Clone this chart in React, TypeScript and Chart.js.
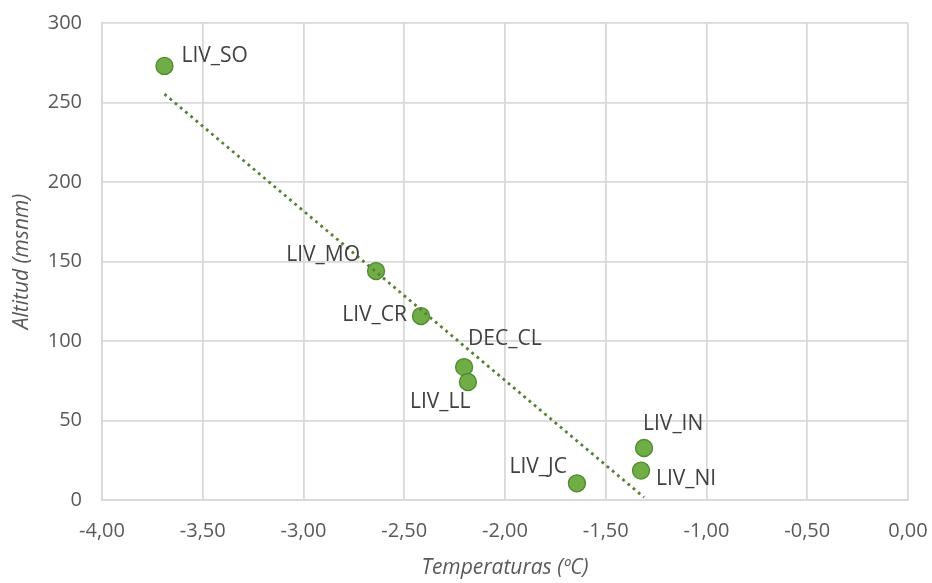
import React, { useEffect, useRef } from "react";
import { Chart, registerables } from "chart.js";

Chart.register(...registerables);

const stations = ["LIV_SO", "LIV_MO", "LIV_CR", "DEC_CL", "LIV_LL", "LIV_JC", "LIV_IN", "LIV_NI"];
const temperatures = [-3.69, -2.64, -2.417, -2.203, -2.184, -1.643, -1.31, -1.325];
const altitudes = [273, 144, 115.7, 83.6, 74.2, 10.5, 32.7, 18.5];

// label placement relative to point: [dx, dy, align]
const labelPlacement: [number, number, CanvasTextAlign][] = [
  [17, -10, "left"],
  [-16, -16, "right"],
  [-14, -1, "right"],
  [4, -28, "left"],
  [-58, 20, "left"],
  [-10, -16, "right"],
  [-1, -23.5, "left"],
  [15, 8, "left"],
];

function regression(xs: number[], ys: number[]) {
  const n = xs.length;
  const mx = xs.reduce((a, b) => a + b, 0) / n;
  const my = ys.reduce((a, b) => a + b, 0) / n;
  let sxy = 0, sxx = 0;
  for (let i = 0; i < n; i++) {
    sxy += (xs[i] - mx) * (ys[i] - my);
    sxx += (xs[i] - mx) * (xs[i] - mx);
  }
  const slope = sxy / sxx;
  return { slope, intercept: my - slope * mx };
}

const FONT = "'Open Sans', 'Liberation Sans', sans-serif";

export default function App() {
  const ref = useRef<HTMLCanvasElement>(null);
  useEffect(() => {
    const { slope, intercept } = regression(temperatures, altitudes);
    const xmin = Math.min(...temperatures);
    const xmax = Math.max(...temperatures);
    const trend = [
      { x: xmin, y: intercept + slope * xmin },
      { x: xmax, y: intercept + slope * xmax },
    ];
    const points = temperatures.map((t, i) => ({ x: t, y: altitudes[i] }));

    const labelPlugin = {
      id: "pointLabels",
      afterDatasetsDraw(chart: any) {
        const ctx = chart.ctx;
        const meta = chart.getDatasetMeta(1);
        ctx.save();
        ctx.font = `21px ${FONT}`;
        ctx.fillStyle = "#404040";
        ctx.textBaseline = "middle";
        meta.data.forEach((el: any, i: number) => {
          const [dx, dy, align] = labelPlacement[i];
          ctx.textAlign = align;
          ctx.fillText(stations[i], el.x + dx, el.y + dy);
        });
        ctx.restore();
      },
    };

    const chart = new Chart(ref.current!, {
      type: "scatter",
      data: {
        datasets: [
          {
            type: "line",
            data: trend,
            borderColor: "#548235",
            borderWidth: 2.8,
            borderDash: [2.8, 4],
            pointRadius: 0,
            fill: false,
            order: 0,
          } as any,
          {
            data: points,
            backgroundColor: "#70AD47",
            borderColor: "#4E8A2E",
            borderWidth: 1.3,
            pointRadius: 8.5,
            order: 1,
          },
        ],
      },
      options: {
        responsive: false,
        animation: false,
        layout: { padding: { top: 23, right: 24, left: 0, bottom: 0 } },
        plugins: { legend: { display: false }, tooltip: { enabled: false } },
        scales: {
          x: {
            type: "linear",
            min: -4,
            max: 0,
            ticks: {
              stepSize: 0.5,
              color: "#595959",
              font: { family: FONT, size: 20 },
              padding: 19,
              callback: (v: any) => Number(v).toFixed(2).replace(".", ","),
            },
            grid: { color: "#d9d9d9", lineWidth: 1.8, drawTicks: false },
            border: { color: "#d9d9d9", width: 1.8 },
            title: {
              display: true,
              text: "Temperaturas (ºC)",
              color: "#595959",
              font: { family: FONT, size: 21, style: "italic" },
              padding: { top: 0, bottom: 2 },
            },
            afterFit: (axis: any) => {
              axis.height = 83;
              axis.paddingLeft = 0;
              axis.paddingRight = 0;
            },
          },
          y: {
            type: "linear",
            min: 0,
            max: 300,
            ticks: {
              stepSize: 50,
              color: "#595959",
              font: { family: FONT, size: 20 },
              padding: 20,
            },
            grid: { color: "#d9d9d9", lineWidth: 1.8, drawTicks: false },
            border: { color: "#d9d9d9", width: 1.8 },
            title: {
              display: true,
              text: "Altitud (msnm)",
              color: "#595959",
              font: { family: FONT, size: 21, style: "italic" },
              padding: { top: 9, bottom: 0 },
            },
            afterFit: (axis: any) => {
              axis.width = 102;
              axis.paddingTop = 0;
              axis.paddingBottom = 0;
            },
          },
        },
      },
      plugins: [labelPlugin],
    });
    return () => chart.destroy();
  }, []);
  return (
    <div style={{ position: "absolute", left: 0, top: 0, width: 932, height: 583, background: "#fff" }}>
      <canvas ref={ref} width={932} height={583} />
    </div>
  );
}
